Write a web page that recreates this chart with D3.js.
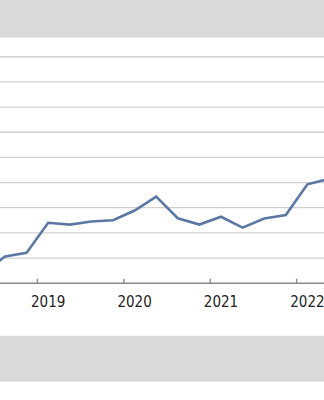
<!DOCTYPE html>
<html>
<head>
<meta charset="utf-8">
<script src="https://cdn.jsdelivr.net/npm/d3@7"></script>
<style>
  html, body { margin: 0; padding: 0; background: #fff; }
  svg { display: block; }
  .grid line { stroke: #d0d0d0; stroke-width: 1.3; }
  .x-axis text { font-family: "DejaVu Sans Condensed", "DejaVu Sans", sans-serif; font-stretch: condensed; font-size: 15px; fill: #222; }
</style>
</head>
<body>
<div id="chart"></div>
<script>
// quarterly series, left part and right part run off the cropped frame
const quarters = ["2018Q2", "2018Q3", "2018Q4",
  "2019Q1", "2019Q2", "2019Q3", "2019Q4",
  "2020Q1", "2020Q2", "2020Q3", "2020Q4",
  "2021Q1", "2021Q2", "2021Q3", "2021Q4",
  "2022Q1", "2022Q2"];
const values = [0.41, 1.06, 1.21,
  2.40, 2.33, 2.45, 2.50,
  2.89, 3.44, 2.58, 2.33,
  2.64, 2.21, 2.57, 2.71,
  3.93, 4.15];
const yearTicks = ["2019Q1", "2020Q1", "2021Q1", "2022Q1"];
const gridValues = [1, 2, 3, 4, 5, 6, 7, 8, 9, 10];

const width = 324, height = 400;

const svg = d3.select("#chart").append("svg")
  .attr("width", width)
  .attr("height", height);

const x = d3.scaleBand()
  .domain(quarters)
  .range([-27.4, 339.8])
  .paddingInner(0)
  .paddingOuter(0);

const y = d3.scaleLinear()
  .domain([0, 10])
  .range([283.2, 31.6]);

// horizontal grid
svg.append("g")
  .attr("class", "grid")
  .selectAll("line")
  .data(gridValues)
  .enter()
  .append("line")
  .attr("x1", 0)
  .attr("x2", width)
  .attr("y1", d => y(d))
  .attr("y2", d => y(d));

// the line
const line = d3.line()
  .x((d, i) => x(quarters[i]) + x.bandwidth() / 2)
  .y(d => y(d));

svg.append("path")
  .datum(values)
  .attr("fill", "none")
  .attr("stroke", "#5b78a5")
  .attr("stroke-width", 2.6)
  .attr("stroke-linejoin", "miter")
  .attr("d", line);

// category axis: labels at band centre, ticks at band boundaries
const xAxis = svg.append("g")
  .attr("class", "x-axis")
  .attr("transform", `translate(0,${y(0)})`)
  .call(d3.axisBottom(x)
    .tickValues(yearTicks)
    .tickSize(0)
    .tickPadding(13)
    .tickFormat(d => d.slice(0, 4)));
xAxis.select(".domain").remove();

svg.append("line")
  .attr("x1", 0)
  .attr("x2", width)
  .attr("y1", y(0))
  .attr("y2", y(0))
  .attr("stroke", "#8a8a8a")
  .attr("stroke-width", 1.6);

svg.append("g")
  .selectAll("line")
  .data(yearTicks)
  .enter()
  .append("line")
  .attr("x1", d => x(d))
  .attr("x2", d => x(d))
  .attr("y1", y(0) - 4.5)
  .attr("y2", y(0))
  .attr("stroke", "#8a8a8a")
  .attr("stroke-width", 1.4);

// grey frame bands
svg.append("rect")
  .attr("x", 0).attr("y", 0)
  .attr("width", width).attr("height", 37.5)
  .attr("fill", "#d9d9d9");

svg.append("rect")
  .attr("x", 0).attr("y", 335.7)
  .attr("width", width).attr("height", 46)
  .attr("fill", "#d9d9db");
</script>
</body>
</html>
